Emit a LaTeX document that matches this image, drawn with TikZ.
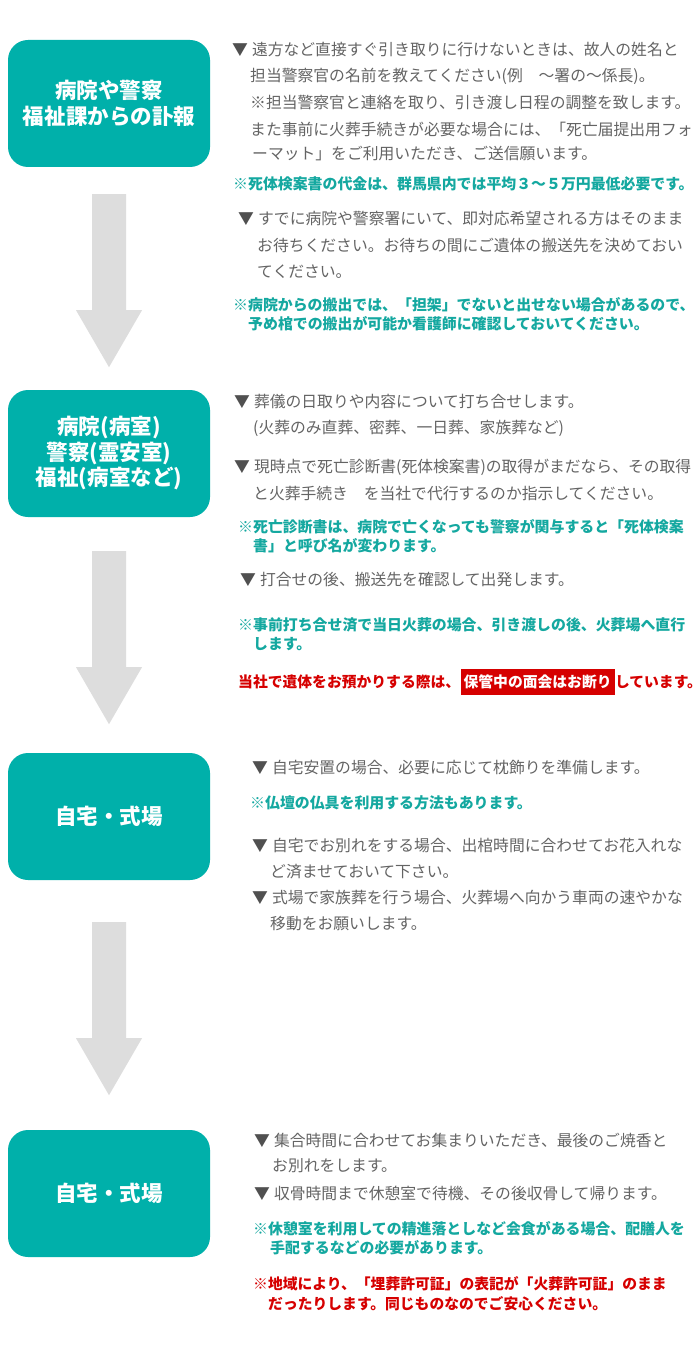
\documentclass[tikz,border=0pt]{standalone}
\usepackage{fontspec}
\setmainfont{Noto Sans CJK JP}
\usetikzlibrary{calc}
\definecolor{boxteal}{RGB}{0,176,170}
\definecolor{tealtxt}{RGB}{20,168,160}
\definecolor{redtxt}{RGB}{214,0,0}
\definecolor{txtgray}{RGB}{100,100,100}
\definecolor{tridark}{RGB}{80,80,80}
\definecolor{arrowfill}{RGB}{221,221,221}
\newcommand{\downarr}[2]{%
  \fill[arrowfill] ($(#1.south)+(-17,#2)$) -- ++(34,0) -- ++(0,116) -- ++(16,0)
    -- ($(#1.south)+(0,#2+173)$) -- ++(-33,-57) -- ++(16,0) -- cycle;}
\newcommand{\tri}{{\color{tridark}▼}\hspace{4pt}}
\newcommand{\kome}{{\mdseries ※}}
\begin{document}
\begin{tikzpicture}[x=1pt,y=-1pt,
  stagebox/.style={fill=boxteal, rounded corners=20pt, minimum width=202pt,
    minimum height=127pt, inner sep=0pt, text=white, align=center,
    font=\fontsize{21.5}{25.5}\selectfont\bfseries},
  gtxt/.style={anchor=west, inner sep=0pt, text=txtgray,
    font=\fontsize{15.8}{18}\selectfont},
  ttxt/.style={anchor=west, inner sep=0pt, text=tealtxt,
    font=\fontsize{14.9}{17}\selectfont\bfseries},
  rtxt/.style={anchor=west, inner sep=0pt, text=redtxt,
    font=\fontsize{14.8}{17}\selectfont\bfseries}]
\useasboundingbox[fill=white] (0,0) rectangle (700,1372);

% stage boxes
\node[stagebox] (b1) at (109,103.5) {病院や警察\\福祉課からの訃報};
\node[stagebox] (b2) at (109,453.5) {病院(病室)\\警察(霊安室)\\福祉(病室など)};
\node[stagebox] (b3) at (109,816.5) {自宅・式場};
\node[stagebox] (b4) at (109,1193.5) {自宅・式場};

% arrows between stages
\downarr{b1}{27}
\downarr{b2}{34}
\downarr{b3}{42}

% block 1
\node[gtxt] (a1) at (232,50) {\tri 遠方など直接すぐ引き取りに行けないときは、故人の姓名と};
\node[gtxt] (a2) at (250,76) {担当警察官の名前を教えてください(例　～署の～係長)。};
\node[gtxt] (a3) at (250,103) {※担当警察官と連絡を取り、引き渡し日程の調整を致します。};
\node[gtxt] (a4) at (250,129) {また事前に火葬手続きが必要な場合には、「死亡届提出用フォ};
\node[gtxt] (a5) at (252,154) {ーマット」をご利用いただき、ご送信願います。};
\node[ttxt] (a6) at (233,184) {\kome 死体検案書の代金は、群馬県内では平均３～５万円最低必要です。};
\node[gtxt] (a7) at (238,219) {\tri すでに病院や警察署にいて、即対応希望される方はそのまま};
\node[gtxt] (a8) at (257,246) {お待ちください。お待ちの間にご遺体の搬送先を決めておい};
\node[gtxt] (a9) at (257,272) {てください。};
\node[ttxt] (a10) at (233,305) {\kome 病院からの搬出では、「担架」でないと出せない場合があるので、};
\node[ttxt] (a11) at (248,324) {予め棺での搬出が可能か看護師に確認しておいてください。};

% block 2
\node[gtxt] (c1) at (234,402) {\tri 葬儀の日取りや内容について打ち合せします。};
\node[gtxt] (c2) at (253,428) {(火葬のみ直葬、密葬、一日葬、家族葬など)};
\node[gtxt] (c3) at (234,467) {\tri 現時点で死亡診断書(死体検案書)の取得がまだなら、その取得};
\node[gtxt] (c4) at (253,494) {と火葬手続き　を当社で代行するのか指示してください。};
\node[ttxt] (c5) at (238,527) {\kome 死亡診断書は、病院で亡くなっても警察が関与すると「死体検案};
\node[ttxt] (c6) at (253,546) {書」と呼び名が変わります。};
\node[gtxt] (c7) at (240,580) {\tri 打合せの後、搬送先を確認して出発します。};
\node[ttxt] (c8) at (238,625) {\kome 事前打ち合せ済で当日火葬の場合、引き渡しの後、火葬場へ直行};
\node[ttxt] (c9) at (253,644) {します。};
\node[rtxt] (r1) at (238,682) {当社で遺体をお預かりする際は、};
\node[anchor=base west, fill=redtxt, text=white, inner xsep=3pt, inner ysep=6pt,
  font=\fontsize{14.8}{17}\selectfont\bfseries] (r2) at (r1.base east) {保管中の面会はお断り};
\node[anchor=base west, inner sep=0pt, text=redtxt,
  font=\fontsize{14.8}{17}\selectfont\bfseries] (r3) at (r2.base east) {しています。};

% block 3
\node[gtxt] (d1) at (252,767) {\tri 自宅安置の場合、必要に応じて枕飾りを準備します。};
\node[ttxt] (d2) at (250,803) {\kome 仏壇の仏具を利用する方法もあります。};
\node[gtxt] (d3) at (252,846) {\tri 自宅でお別れをする場合、出棺時間に合わせてお花入れな};
\node[gtxt] (d4) at (270,872) {ど済ませておいて下さい。};
\node[gtxt] (d5) at (252,898) {\tri 式場で家族葬を行う場合、火葬場へ向かう車両の速やかな};
\node[gtxt] (d6) at (270,924) {移動をお願いします。};

% block 4
\node[gtxt] (e1) at (254,1140) {\tri 集合時間に合わせてお集まりいただき、最後のご焼香と};
\node[gtxt] (e2) at (272,1166) {お別れをします。};
\node[gtxt] (e3) at (254,1193) {\tri 収骨時間まで休憩室で待機、その後収骨して帰ります。};
\node[ttxt] (e4) at (253,1229) {\kome 休憩室を利用しての精進落としなど会食がある場合、配膳人を};
\node[ttxt] (e5) at (270,1248) {手配するなどの必要があります。};
\node[rtxt] (e6) at (253,1284) {\kome 地域により、「埋葬許可証」の表記が「火葬許可証」のまま};
\node[rtxt] (e7) at (268,1304) {だったりします。同じものなのでご安心ください。};
\end{tikzpicture}
\end{document}
